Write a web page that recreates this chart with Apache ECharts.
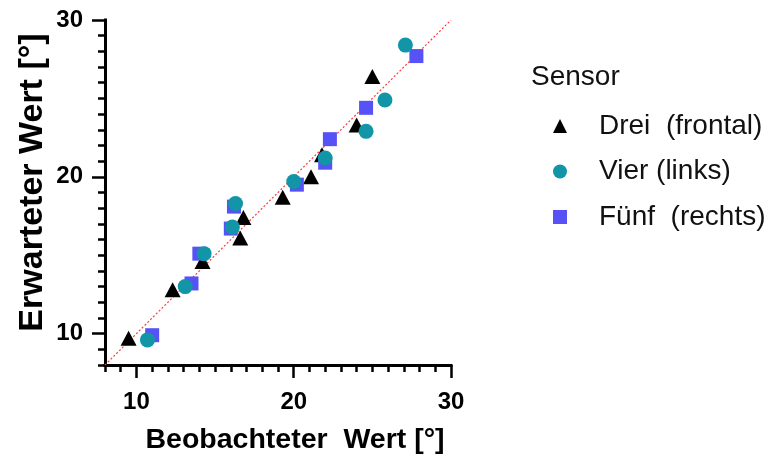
<!DOCTYPE html>
<html>
<head>
<meta charset="utf-8">
<script src="https://cdn.jsdelivr.net/npm/echarts@6/dist/echarts.min.js"></script>
<style>
  html, body { margin: 0; padding: 0; background: #fff; }
  #chart { width: 771px; height: 455px; }
</style>
</head>
<body>
<div id="chart"></div>
<script>
// Observed vs expected angle per sensor
const majorTicks = [10, 20, 30];
const axisMin = 8;
const axisMax = 30;

const dreiObserved = [9.5, 12.3, 14.2, 16.6, 16.8, 19.3, 21.1, 21.8, 24.0, 25.0];
const dreiExpected = [9.7, 12.8, 14.6, 16.1, 17.4, 18.7, 20.0, 21.4, 23.3, 26.4];

const vierObserved = [10.7, 13.1, 14.3, 16.1, 16.3, 20.0, 22.0, 24.6, 25.8, 27.1];
const vierExpected = [9.6, 13.0, 15.1, 16.8, 18.3, 19.7, 21.2, 22.9, 24.9, 28.4];

const fuenfObserved = [11.0, 13.5, 14.0, 16.0, 16.2, 20.2, 22.0, 22.3, 24.6, 27.8];
const fuenfExpected = [9.9, 13.2, 15.1, 16.7, 18.1, 19.5, 20.9, 22.4, 24.4, 27.7];

const identityLine = [axisMin, axisMax];

const seriesNames = ['Drei  (frontal)', 'Vier (links)', 'Fünf  (rechts)'];

const pairs = (xs, ys) => xs.map((x, i) => [x, ys[i]]);

const FONT = 'Liberation Sans, Arial, sans-serif';

function majorAxis(isX) {
  return {
    type: 'value',
    min: axisMin,
    max: axisMax,
    interval: 1,
    position: isX ? 'bottom' : 'left',
    name: isX ? 'Beobachteter  Wert [°]' : 'Erwarteter Wert [°]',
    nameLocation: 'middle',
    nameGap: isX ? 61 : 55,
    nameRotate: isX ? 0 : 90,
    nameTextStyle: {
      fontFamily: FONT, fontWeight: 'bold', fontSize: isX ? 28.5 : 34, color: '#000',
      padding: isX ? [0, 0, 0, 34] : [0, 0, 0, 20]
    },
    axisLine: { show: true, onZero: false, lineStyle: { color: '#000', width: 3, cap: 'square' } },
    axisTick: { show: true, customValues: majorTicks, length: 13, lineStyle: { color: '#000', width: 2.5 } },
    axisLabel: {
      show: true, customValues: majorTicks, margin: isX ? 25 : 22,
      fontFamily: FONT, fontWeight: 'bold', fontSize: 24, color: '#000'
    },
    splitLine: { show: false }
  };
}

function minorAxis(isX) {
  return {
    type: 'value',
    min: axisMin,
    max: axisMax,
    interval: 1,
    position: isX ? 'bottom' : 'left',
    axisLine: { show: false, onZero: false },
    axisTick: { show: true, length: 7, lineStyle: { color: '#000', width: 2.5 } },
    axisLabel: { show: false },
    splitLine: { show: false }
  };
}

const chart = echarts.init(document.getElementById('chart'), null, { renderer: 'canvas' });

chart.setOption({
  animation: false,
  backgroundColor: '#fff',
  title: {
    text: 'Sensor',
    left: 526,
    top: 58,
    textStyle: { fontFamily: FONT, fontWeight: 'normal', fontSize: 28, color: '#111' }
  },
  legend: {
    orient: 'vertical',
    left: 548,
    top: 105,
    itemWidth: 14,
    itemHeight: 14,
    itemGap: 13.5,
    data: [
      { name: seriesNames[0], icon: 'triangle' },
      { name: seriesNames[1], icon: 'circle' },
      { name: seriesNames[2], icon: 'rect' }
    ],
    textStyle: {
      fontFamily: FONT, fontSize: 28, color: '#111',
      lineHeight: 32, padding: [0, 0, 0, 27]
    }
  },
  grid: {
    left: 105, right: 320, top: 20, bottom: 90,
    containLabel: false,
    outerBoundsMode: 'none'
  },
  xAxis: [majorAxis(true), minorAxis(true)],
  yAxis: [majorAxis(false), minorAxis(false)],
  series: [
    {
      name: 'identity',
      type: 'line',
      data: [[identityLine[0], identityLine[0]], [identityLine[1], identityLine[1]]],
      symbol: 'none',
      silent: true,
      lineStyle: { color: '#ff3b3b', width: 1.2, type: [2, 2] },
      z: 1
    },
    {
      name: seriesNames[0],
      type: 'scatter',
      symbol: 'triangle',
      symbolSize: [16, 15],
      itemStyle: { color: '#000', opacity: 1 },
      data: pairs(dreiObserved, dreiExpected),
      z: 2
    },
    {
      name: seriesNames[2],
      type: 'scatter',
      symbol: 'rect',
      symbolSize: 14,
      itemStyle: { color: '#5652f6', opacity: 1 },
      data: pairs(fuenfObserved, fuenfExpected),
      z: 3
    },
    {
      name: seriesNames[1],
      type: 'scatter',
      symbol: 'circle',
      symbolSize: 15,
      itemStyle: { color: '#1295a7', opacity: 1 },
      data: pairs(vierObserved, vierExpected),
      z: 4
    }
  ]
});
</script>
</body>
</html>
